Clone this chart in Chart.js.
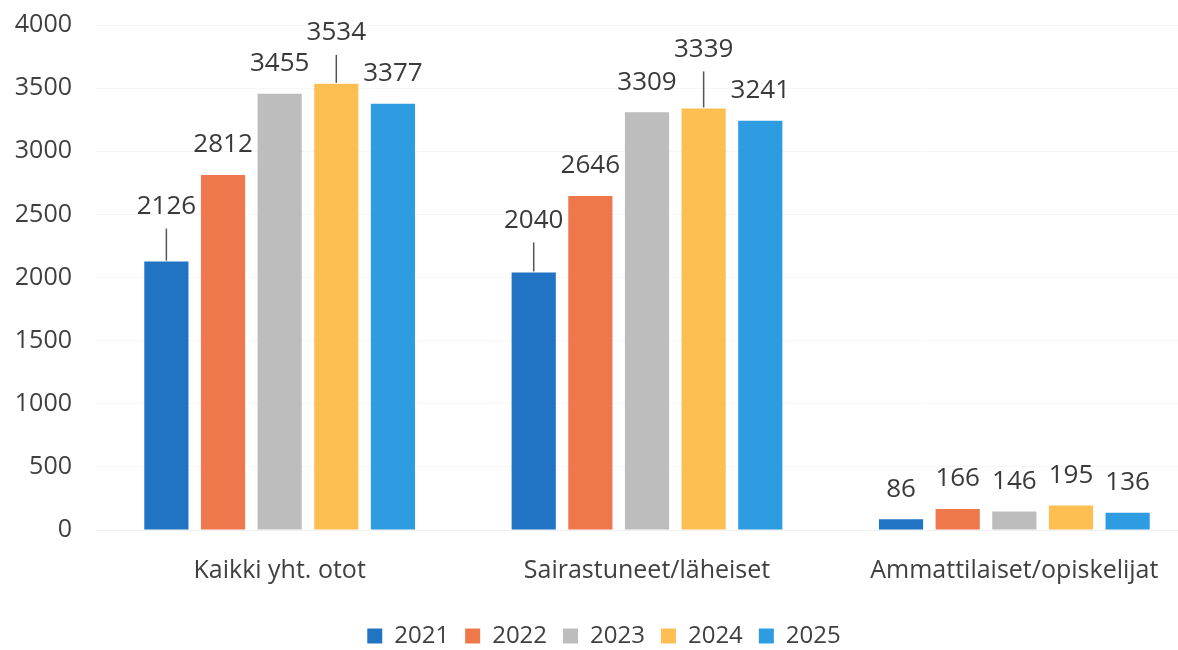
<!DOCTYPE html>
<html>
<head>
<meta charset="utf-8">
<script src="https://cdn.jsdelivr.net/npm/chart.js@4.4.1/dist/chart.umd.min.js"></script>
<style>
  html, body { margin: 0; padding: 0; background: #fff; overflow: hidden; }
  #wrap { width: 1178px; height: 650px; overflow: hidden; }
</style>
</head>
<body>
<div id="wrap"><canvas id="grafico" width="1200" height="650"></canvas></div>
<script>
// Datos del gráfico
const kategoriat = ['Kaikki yht. otot', 'Sairastuneet/läheiset', 'Ammattilaiset/opiskelijat'];
const vuodet = ['2021', '2022', '2023', '2024', '2025'];
const arvot2021 = [2126, 2040, 86];
const arvot2022 = [2812, 2646, 166];
const arvot2023 = [3455, 3309, 146];
const arvot2024 = [3534, 3339, 195];
const arvot2025 = [3377, 3241, 136];
const yTicks = [0, 500, 1000, 1500, 2000, 2500, 3000, 3500, 4000];

const varit = ['#2173c4', '#ee774b', '#bdbdbd', '#fdbf52', '#2d9ce0'];
const sarjat = [arvot2021, arvot2022, arvot2023, arvot2024, arvot2025];

const tekstiVari = '#404040';
const fontti = '"Open Sans", "Noto Sans", sans-serif';

// extra nosto joillekin arvoille (viivalla palkkiin)
const nosto = {
  '0-0': 25, '3-0': 21,
  '0-1': 22, '3-1': 29
};

const arvoPlugin = {
  id: 'arvot',
  afterDatasetsDraw(chart) {
    const ctx = chart.ctx;
    ctx.save();
    ctx.font = '26px ' + fontti;
    ctx.fillStyle = '#3a3a3a';
    ctx.textAlign = 'center';
    ctx.textBaseline = 'middle';
    chart.data.datasets.forEach((ds, i) => {
      const meta = chart.getDatasetMeta(i);
      meta.data.forEach((bar, j) => {
        const extra = nosto[i + '-' + j] || 0;
        const y = bar.y - 30 - extra;
        ctx.fillText(ds.data[j], bar.x, y);
        if (extra) {
          ctx.strokeStyle = '#555';
          ctx.lineWidth = 1.5;
          ctx.beginPath();
          ctx.moveTo(bar.x, y + 22);
          ctx.lineTo(bar.x, bar.y - 1);
          ctx.stroke();
        }
      });
    });
    ctx.restore();
  }
};

new Chart(document.getElementById('grafico'), {
  type: 'bar',
  data: {
    labels: kategoriat,
    datasets: vuodet.map((v, i) => ({
      label: v,
      data: sarjat[i],
      backgroundColor: varit[i],
      borderWidth: 0,
      categoryPercentage: 0.771,
      barPercentage: 0.78
    }))
  },
  options: {
    responsive: false,
    animation: false,
    layout: { padding: { top: 25, right: 2, left: 10, bottom: -8 } },
    plugins: {
      tooltip: { enabled: false },
      legend: {
        position: 'bottom',
        labels: {
          color: tekstiVari,
          font: { family: fontti, size: 24 },
          boxWidth: 15,
          boxHeight: 15,
          padding: 16
        }
      }
    },
    scales: {
      x: {
        afterFit(scale) { scale.height += 4; },
        grid: { display: false },
        border: { display: true, color: '#f0f0f0' },
        ticks: {
          color: tekstiVari,
          font: { family: fontti, size: 25 },
          padding: 18
        }
      },
      y: {
        min: 0,
        max: 4000,
        afterBuildTicks(scale) {
          scale.ticks = yTicks.map(v => ({ value: v }));
        },
        afterFit(scale) {
          scale.width = 86;
          scale.paddingTop = 0;
          scale.paddingBottom = 0;
        },
        grid: { color: '#f6f6f6', drawTicks: false },
        border: { display: false },
        ticks: {
          color: tekstiVari,
          font: { family: fontti, size: 25 },
          padding: 24,
          callback: v => String(v)
        }
      }
    }
  },
  plugins: [arvoPlugin]
});
</script>
</body>
</html>
